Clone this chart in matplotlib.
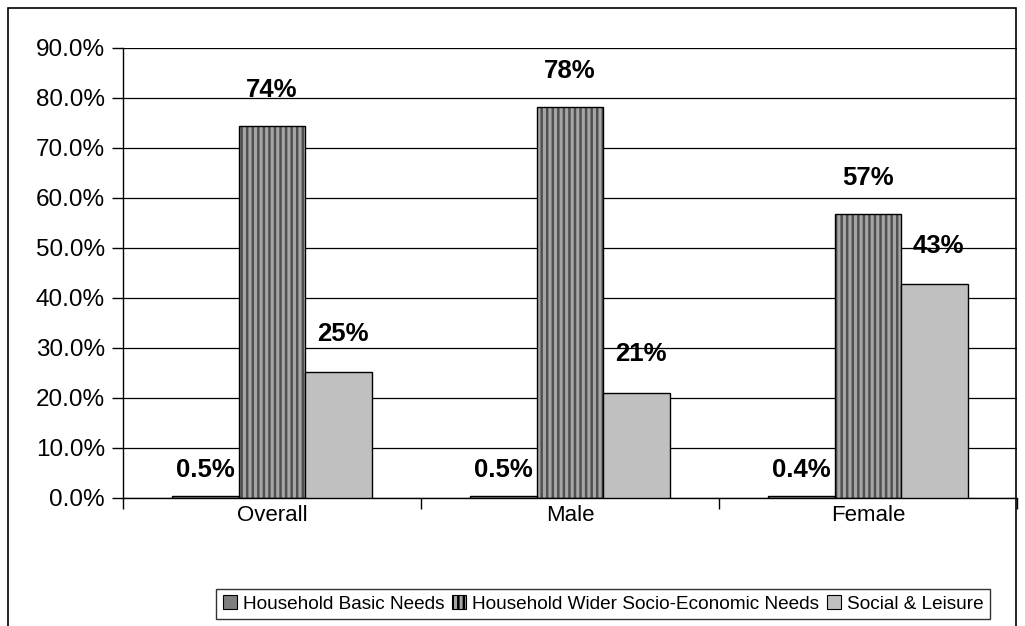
"""Spending category shares by group, grouped bar chart."""

import matplotlib.pyplot as plt
import numpy as np
from matplotlib.patches import Rectangle
from matplotlib.ticker import FuncFormatter

plt.rcParams["font.family"] = ["Liberation Sans", "DejaVu Sans"]

groups = ["Overall", "Male", "Female"]
series = ["Household Basic Needs", "Household Wider Socio-Economic Needs", "Social & Leisure"]
basic_needs = [0.5, 0.5, 0.4]
wider_needs = [74.4, 78.2, 56.8]
social_leisure = [25.2, 21.1, 42.8]
value_labels = [
    ["0.5%", "0.5%", "0.4%"],
    ["74%", "78%", "57%"],
    ["25%", "21%", "43%"],
]


def main() -> None:
    fig = plt.figure(figsize=(10.25, 6.26), dpi=100)
    W, H = 1025, 626
    ax = fig.add_axes([123 / W, 1 - 498 / H, (1017 - 123) / W, (498 - 48) / H])

    # outer chart border
    fig.add_artist(Rectangle((8 / W, -0.05), (1016 - 8) / W, 1.05 - 8 / H,
                             transform=fig.transFigure, fill=False,
                             edgecolor="black", linewidth=1.2))

    x = np.arange(len(groups))
    width = 0.223
    styles = [
        dict(facecolor="#7f7f7f", hatch=None, hatchcolor=None),
        dict(facecolor="#a6a6a6", hatch="|||", hatchcolor="#505050"),
        dict(facecolor="#c0c0c0", hatch=None, hatchcolor=None),
    ]
    offsets = [10, 17, 19]
    handles = []
    for i, (values, name) in enumerate(zip([basic_needs, wider_needs, social_leisure], series)):
        pos = x + (i - 1) * width
        st = styles[i]
        if st["hatch"]:
            plt.rcParams["hatch.color"] = st["hatchcolor"]
            plt.rcParams["hatch.linewidth"] = 1.8
            ax.bar(pos, values, width, color=st["facecolor"], hatch=st["hatch"],
                   edgecolor=st["hatchcolor"], linewidth=0, zorder=2)
        bars = ax.bar(pos, values, width, facecolor=st["facecolor"] if not st["hatch"] else "none",
                      edgecolor="black", linewidth=1.0, zorder=3)
        handle = Rectangle((0, 0), 1, 1, facecolor=st["facecolor"], edgecolor="black",
                           hatch=st["hatch"], linewidth=0.8)
        handles.append(handle)
        for bar, text in zip(bars, value_labels[i]):
            ax.annotate(text, (bar.get_x() + bar.get_width() / 2, bar.get_height()),
                        xytext=(3 if i == 2 else 0, offsets[i]), textcoords="offset points",
                        ha="center", va="bottom", fontsize=18.5, fontweight="bold")

    ax.set_xlim(-0.5, 2.5)
    ax.set_ylim(0, 90)
    ax.set_yticks(np.arange(0, 91, 10))
    ax.yaxis.set_major_formatter(FuncFormatter(lambda v, _: f"{v:.1f}%"))
    ax.yaxis.grid(True, color="black", linewidth=0.9)
    ax.set_axisbelow(True)
    ax.set_xticks([-0.5, 0.5, 1.5, 2.5])
    ax.set_xticklabels([])
    ax.set_xticks(x, minor=True)
    ax.set_xticklabels(groups, minor=True, fontsize=16)
    ax.tick_params(axis="x", which="minor", length=0, pad=5)
    ax.tick_params(axis="x", which="major", length=8, width=1, direction="out")
    ax.tick_params(axis="y", length=8, width=1, direction="out", labelsize=17.5, pad=5)
    for side in ["top", "right"]:
        ax.spines[side].set_visible(False)
    ax.spines["left"].set_linewidth(1.0)
    ax.spines["bottom"].set_linewidth(1.0)

    leg = fig.legend(handles, series, loc="center", bbox_to_anchor=(603 / W, 1 - 604 / H),
                     ncol=3, fontsize=13.7, frameon=True, fancybox=False, edgecolor="black",
                     handlelength=0.75, handleheight=0.75, handletextpad=0.3,
                     columnspacing=0.4, borderpad=0.35)
    leg.get_frame().set_linewidth(1.0)

    fig.savefig("out.png", dpi=100)


if __name__ == "__main__":
    main()
